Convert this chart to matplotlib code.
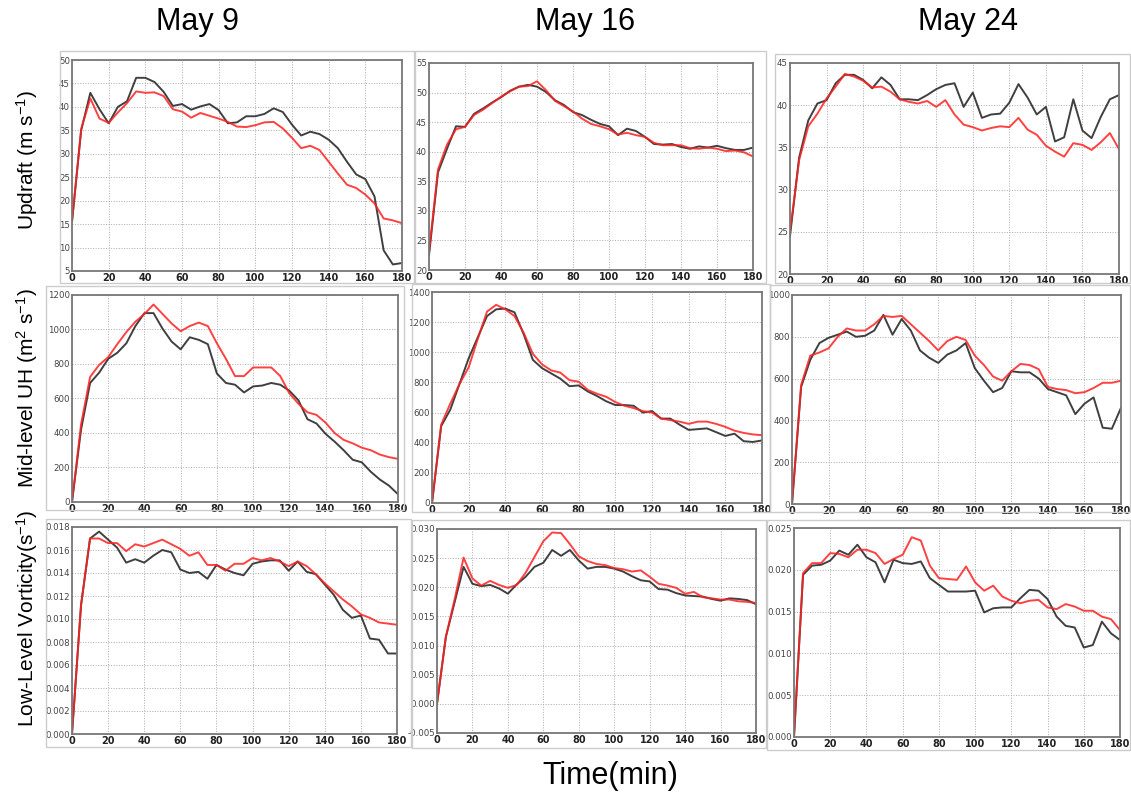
import matplotlib
matplotlib.use('Agg')
import matplotlib.pyplot as plt
from matplotlib.patches import Rectangle

W, H = 1131, 797

time_min = list(range(0, 181, 5))
dates = ['May 9', 'May 16', 'May 24']
row_labels = [r'Updraft (m s$^{-1}$)', r'Mid-level UH (m$^{2}$ s$^{-1}$)', r'Low-Level Vorticity(s$^{-1}$)']

# updraft (m/s), black = control, red = experiment
updraft_may9_black = [15.5, 35.0, 43.0, 39.5, 36.5, 40.0, 41.2, 46.2, 46.2, 45.3, 43.2, 40.2, 40.6, 39.4, 40.1, 40.6, 39.3, 36.5, 36.7,
                      38.0, 38.0, 38.5, 39.7, 38.9, 36.2, 33.9, 34.7, 34.2, 33.0, 31.2, 28.3, 25.6, 24.6, 20.9, 9.4, 6.4, 6.7]
updraft_may9_red = [15.5, 35.3, 41.8, 37.5, 36.6, 38.8, 40.8, 43.3, 43.0, 43.1, 42.3, 39.5, 39.0, 37.7, 38.7, 38.1, 37.5, 36.8, 35.8,
                    35.7, 36.1, 36.7, 36.8, 35.4, 33.4, 31.2, 31.7, 30.8, 28.3, 25.8, 23.4, 22.7, 21.3, 19.4, 16.2, 15.8, 15.2]
updraft_may16_black = [22.5, 36.5, 40.5, 44.3, 44.2, 46.4, 47.3, 48.3, 49.2, 50.3, 51.0, 51.3, 51.0, 50.1, 48.7, 47.9, 46.7, 46.2, 45.4,
                       44.7, 44.3, 42.8, 43.9, 43.5, 42.5, 41.3, 41.2, 41.3, 40.8, 40.5, 40.9, 40.7, 41.0, 40.6, 40.3, 40.3, 40.7]
updraft_may16_red = [23.0, 37.0, 41.2, 43.8, 44.2, 46.2, 47.1, 48.2, 49.3, 50.2, 51.0, 51.1, 51.9, 50.4, 48.6, 47.7, 46.8, 45.6, 44.7,
                     44.3, 43.8, 42.9, 43.2, 42.8, 42.5, 41.5, 41.1, 41.1, 41.1, 40.6, 40.5, 40.7, 40.5, 40.1, 40.2, 39.9, 39.2]
updraft_may24_black = [24.5, 33.8, 38.2, 40.2, 40.6, 42.6, 43.6, 43.6, 43.0, 42.0, 43.3, 42.4, 40.7, 40.7, 40.6, 41.2, 41.9, 42.4, 42.6,
                       39.8, 41.5, 38.5, 38.9, 39.0, 40.3, 42.5, 40.9, 38.9, 39.8, 35.7, 36.2, 40.7, 37.0, 36.1, 38.6, 40.7, 41.2]
updraft_may24_red = [25.0, 33.5, 37.5, 39.0, 40.8, 42.2, 43.7, 43.4, 42.9, 42.1, 42.2, 41.6, 40.7, 40.4, 40.2, 40.5, 39.8, 40.6, 38.9,
                     37.7, 37.4, 37.0, 37.3, 37.5, 37.4, 38.5, 37.1, 36.5, 35.2, 34.5, 33.9, 35.5, 35.3, 34.7, 35.6, 36.7, 34.8]

# mid-level updraft helicity (m2/s2)
uh_may9_black = [0, 420, 690, 750, 830, 865, 920, 1020, 1095, 1095, 1005, 930, 885, 955, 940, 915, 745, 690, 680,
                 635, 670, 675, 690, 680, 645, 590, 480, 455, 395, 350, 300, 245, 230, 175, 130, 95, 45]
uh_may9_red = [0, 450, 725, 795, 840, 915, 985, 1045, 1090, 1145, 1090, 1035, 990, 1020, 1040, 1020, 920, 830, 730,
               730, 780, 780, 780, 730, 630, 570, 520, 505, 460, 400, 360, 340, 315, 300, 275, 260, 250]
uh_may16_black = [0, 510, 620, 790, 960, 1100, 1240, 1285, 1290, 1265, 1120, 950, 895, 860, 825, 775, 780, 740, 710,
                  675, 650, 650, 645, 600, 610, 560, 560, 520, 485, 490, 495, 470, 445, 460, 410, 405, 415]
uh_may16_red = [0, 520, 660, 790, 900, 1090, 1270, 1315, 1285, 1240, 1130, 990, 920, 880, 865, 815, 805, 750, 725,
                705, 670, 645, 630, 610, 600, 560, 550, 540, 525, 540, 540, 525, 505, 480, 465, 455, 450]
uh_may24_black = [0, 560, 690, 770, 795, 810, 825, 800, 805, 830, 905, 810, 885, 830, 735, 700, 675, 715, 735,
                  770, 650, 590, 535, 555, 635, 630, 630, 600, 550, 535, 520, 430, 480, 510, 365, 360, 460]
uh_may24_red = [0, 570, 710, 725, 745, 800, 840, 830, 830, 860, 900, 895, 900, 860, 820, 780, 735, 780, 800,
                785, 710, 665, 610, 590, 635, 670, 665, 645, 560, 550, 545, 530, 535, 555, 580, 580, 590]

# low-level vorticity (1/s)
vort_may9_black = [0.0, 0.0112, 0.0170, 0.0176, 0.0169, 0.0162, 0.0149, 0.0152, 0.0149, 0.0155, 0.0160, 0.0158, 0.0143,
                   0.0140, 0.0141, 0.0135, 0.0147, 0.0143, 0.0140, 0.0138, 0.0148, 0.0150, 0.0151, 0.0151, 0.0142,
                   0.0150, 0.0141, 0.0139, 0.0130, 0.0121, 0.0108, 0.0101, 0.0103, 0.0083, 0.0082, 0.0070, 0.0070]
vort_may9_red = [0.0, 0.0112, 0.0170, 0.0170, 0.0166, 0.0166, 0.0159, 0.0165, 0.0163, 0.0166, 0.0169, 0.0165, 0.0161,
                 0.0155, 0.0158, 0.0147, 0.0147, 0.0142, 0.0148, 0.0148, 0.0153, 0.0151, 0.0153, 0.0150, 0.0146,
                 0.0150, 0.0146, 0.0139, 0.0131, 0.0124, 0.0117, 0.0111, 0.0104, 0.0101, 0.0097, 0.0096, 0.0095]
vort_may16_black = [0.0, 0.0115, 0.0175, 0.0235, 0.0206, 0.0202, 0.0204, 0.0198, 0.0189, 0.0205, 0.0218, 0.0235, 0.0242,
                    0.0264, 0.0254, 0.0264, 0.0246, 0.0232, 0.0235, 0.0235, 0.0232, 0.0227, 0.0219, 0.0212, 0.0210,
                    0.0197, 0.0196, 0.0190, 0.0186, 0.0185, 0.0184, 0.0180, 0.0177, 0.0181, 0.0180, 0.0178, 0.0171]
vort_may16_red = [0.0, 0.0115, 0.0180, 0.0251, 0.0215, 0.0203, 0.0211, 0.0204, 0.0199, 0.0204, 0.0225, 0.0252, 0.0279,
                  0.0294, 0.0293, 0.0274, 0.0253, 0.0245, 0.0240, 0.0238, 0.0233, 0.0231, 0.0227, 0.0229, 0.0218,
                  0.0206, 0.0203, 0.0199, 0.0189, 0.0192, 0.0183, 0.0181, 0.0179, 0.0179, 0.0176, 0.0175, 0.0173]
vort_may24_black = [0.0, 0.0194, 0.0205, 0.0206, 0.0211, 0.0223, 0.0218, 0.0230, 0.0215, 0.0209, 0.0185, 0.0212, 0.0208,
                    0.0207, 0.0210, 0.0190, 0.0182, 0.0174, 0.0174, 0.0174, 0.0175, 0.0149, 0.0154, 0.0155, 0.0155,
                    0.0166, 0.0176, 0.0175, 0.0165, 0.0144, 0.0133, 0.0131, 0.0107, 0.0110, 0.0138, 0.0124, 0.0116]
vort_may24_red = [0.0, 0.0196, 0.0208, 0.0208, 0.0220, 0.0219, 0.0215, 0.0224, 0.0224, 0.0220, 0.0207, 0.0213, 0.0218,
                  0.0239, 0.0235, 0.0205, 0.0190, 0.0189, 0.0188, 0.0204, 0.0185, 0.0175, 0.0181, 0.0168, 0.0163,
                  0.0160, 0.0163, 0.0164, 0.0155, 0.0153, 0.0159, 0.0156, 0.0151, 0.0151, 0.0144, 0.0141, 0.0128]

# y tick values per panel (row, col)
yticks_updraft = [list(range(5, 51, 5)), list(range(20, 56, 5)), list(range(20, 46, 5))]
yticks_uh = [list(range(0, 1201, 200)), list(range(0, 1401, 200)), list(range(0, 1001, 200))]
yticks_vort = [[i * 0.002 for i in range(10)], [-0.005 + i * 0.005 for i in range(8)], [i * 0.005 for i in range(6)]]

panels = [
    [(updraft_may9_black, updraft_may9_red), (updraft_may16_black, updraft_may16_red), (updraft_may24_black, updraft_may24_red)],
    [(uh_may9_black, uh_may9_red), (uh_may16_black, uh_may16_red), (uh_may24_black, uh_may24_red)],
    [(vort_may9_black, vort_may9_red), (vort_may16_black, vort_may16_red), (vort_may24_black, vort_may24_red)],
]
yticks = [yticks_updraft, yticks_uh, yticks_vort]
yfmt = ['{:.0f}', '{:.0f}', '{:.3f}']

# axes boxes in pixels (left, top, right, bottom), each panel was a pasted screenshot
ax_px = [
    [(72, 60, 402, 271), (429, 63, 753, 270), (790, 63, 1119, 274)],
    [(72, 295, 398, 502), (432, 292, 762, 503), (792, 295, 1121, 504)],
    [(72, 527, 397, 734), (437, 529, 756, 733), (794, 528, 1120, 737)],
]
frame_px = [
    [(60, 51, 415, 283), (414, 51, 766, 283), (775, 54, 1130, 283)],
    [(46, 286, 404, 510), (412, 284, 770, 512), (770, 285, 1130, 512)],
    [(46, 519, 411, 747), (412, 520, 766, 748), (767, 520, 1130, 750)],
]


def px_rect(l, t, r, b):
    return [l / W, 1 - b / H, (r - l) / W, (b - t) / H]


plt.rcParams['mathtext.fontset'] = 'custom'
plt.rcParams['mathtext.rm'] = 'Liberation Sans'
plt.rcParams['mathtext.it'] = 'Liberation Sans'

fig = plt.figure(figsize=(W / 100, H / 100), dpi=100)

for i in range(3):
    for j in range(3):
        fl, ft, fr, fb = frame_px[i][j]
        fig.add_artist(Rectangle((fl / W, 1 - fb / H), (fr - fl) / W, (fb - ft) / H, transform=fig.transFigure,
                                 fill=False, edgecolor='#cccccc', linewidth=1.0))

        ax = fig.add_axes(px_rect(*ax_px[i][j]))
        black, red = panels[i][j]
        ax.plot(time_min, black, color='#2b2b2b', linewidth=1.4, alpha=0.9)
        ax.plot(time_min, red, color='#ff2020', linewidth=1.4, alpha=0.85)

        ticks = yticks[i][j]
        ax.set_ylim(ticks[0], ticks[-1])
        ax.set_yticks(ticks)
        ax.set_yticklabels([yfmt[i].format(t) for t in ticks], fontsize=6.2, color='#444444')
        ax.set_xlim(0, 180)
        ax.set_xticks(range(0, 181, 20))
        ax.set_xticklabels([str(t) for t in range(0, 181, 20)], fontsize=7, fontweight='bold', color='#222222')
        ax.tick_params(length=0, pad=1.5)
        ax.grid(True, linestyle=':', color='#aaaaaa', linewidth=0.7)
        for s in ax.spines.values():
            s.set_color('#777777')
            s.set_linewidth(1.3)

title_x = [197, 585, 968]
for j in range(3):
    fig.text(title_x[j] / W, 1 - 22 / H, dates[j], fontsize=22, family='Liberation Sans', ha='center', va='center')

label_y = [160, 388, 618]
for i in range(3):
    fig.text(27 / W, 1 - label_y[i] / H, row_labels[i], fontsize=15, family='Liberation Sans',
             rotation=90, ha='center', va='center')

fig.text(610 / W, 1 - 776 / H, 'Time(min)', fontsize=22, family='Liberation Sans', ha='center', va='center')

fig.savefig('out.png', dpi=100)
